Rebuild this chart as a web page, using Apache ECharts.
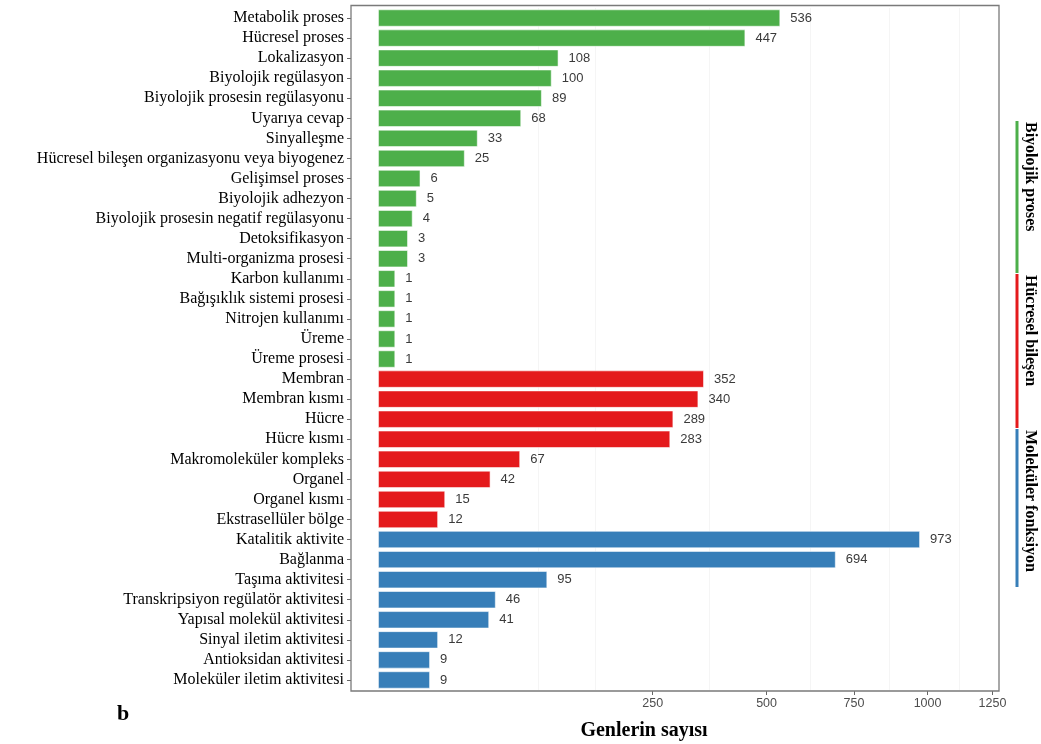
<!DOCTYPE html>
<html>
<head>
<meta charset="utf-8">
<style>
  html, body { margin: 0; padding: 0; background: #fff; }
  #chart { width: 1041px; height: 744px; }
</style>
<script src="https://cdn.jsdelivr.net/npm/echarts@6/dist/echarts.min.js"></script>
</head>
<body>
<div id="chart"></div>
<script>
// GO term counts, grouped by ontology
const bpNames = ['Metabolik proses', 'Hücresel proses', 'Lokalizasyon', 'Biyolojik regülasyon',
  'Biyolojik prosesin regülasyonu', 'Uyarıya cevap', 'Sinyalleşme',
  'Hücresel bileşen organizasyonu veya biyogenez', 'Gelişimsel proses', 'Biyolojik adhezyon',
  'Biyolojik prosesin negatif regülasyonu', 'Detoksifikasyon', 'Multi-organizma prosesi',
  'Karbon kullanımı', 'Bağışıklık sistemi prosesi', 'Nitrojen kullanımı', 'Üreme', 'Üreme prosesi'];
const bpValues = [536, 447, 108, 100, 89, 68, 33, 25, 6, 5, 4, 3, 3, 1, 1, 1, 1, 1];

const ccNames = ['Membran', 'Membran kısmı', 'Hücre', 'Hücre kısmı', 'Makromoleküler kompleks',
  'Organel', 'Organel kısmı', 'Ekstrasellüler bölge'];
const ccValues = [352, 340, 289, 283, 67, 42, 15, 12];

const mfNames = ['Katalitik aktivite', 'Bağlanma', 'Taşıma aktivitesi',
  'Transkripsiyon regülatör aktivitesi', 'Yapısal molekül aktivitesi', 'Sinyal iletim aktivitesi',
  'Antioksidan aktivitesi', 'Moleküler iletim aktivitesi'];
const mfValues = [973, 694, 95, 46, 41, 12, 9, 9];

const groupNames = ['Biyolojik proses', 'Hücresel bileşen', 'Moleküler fonksiyon'];
const groupColors = ['#4daf4a', '#e41a1c', '#377eb8'];

// x axis: square-root scale, ticks in raw counts
const xTicks = [250, 500, 750, 1000, 1250];
const xMinorGrid = [85, 157, 364, 618, 867, 1119];
const xDomainMax = 1281;

const sqrt = Math.sqrt;

const categories = [].concat(bpNames, ccNames, mfNames);
const barData = [];
[bpValues, ccValues, mfValues].forEach((vals, g) => {
  vals.forEach(v => {
    barData.push({ value: sqrt(v), raw: v, itemStyle: { color: groupColors[g] } });
  });
});

const chart = echarts.init(document.getElementById('chart'), null, { renderer: 'canvas' });

const GRID = { left: 351, top: 8, width: 649, height: 682 };

// group strip on the right side
const strips = [
  { y0: 121, y1: 273 },
  { y0: 274, y1: 428 },
  { y0: 429, y1: 587 }
];
const stripGraphics = [];
strips.forEach((s, i) => {
  stripGraphics.push({
    type: 'line', silent: true,
    shape: { x1: 1017, y1: s.y0, x2: 1017, y2: s.y1 },
    style: { stroke: groupColors[i], lineWidth: 3 }
  });
  stripGraphics.push({
    type: 'text', silent: true,
    x: 1038, y: s.y0 + 1, rotation: -Math.PI / 2,
    style: {
      text: groupNames[i], x: 0, y: 0,
      fill: '#000', font: 'bold 16px "Liberation Serif", "Times New Roman", serif',
      textAlign: 'left', textVerticalAlign: 'top'
    }
  });
});

chart.setOption({
  animation: false,
  backgroundColor: '#fff',
  grid: { left: GRID.left, top: GRID.top, width: GRID.width, height: GRID.height, containLabel: false },
  xAxis: {
    type: 'value',
    min: -1.55,
    max: sqrt(xDomainMax),
    offset: 1,
    axisLine: { show: false, onZero: false },
    splitLine: { show: false },
    axisTick: {
      show: true, length: 4, lineStyle: { color: '#666', width: 1 },
      customValues: xTicks.map(sqrt)
    },
    axisLabel: {
      show: true, margin: 6, color: '#4d4d4d',
      fontFamily: '"Liberation Sans", Arial, sans-serif', fontSize: 12.5,
      customValues: xTicks.map(sqrt),
      formatter: v => String(Math.round(v * v))
    }
  },
  yAxis: {
    type: 'category',
    inverse: true,
    data: categories,
    axisLine: { show: false, onZero: false },
    axisTick: { show: true, alignWithLabel: true, length: 4, lineStyle: { color: '#666', width: 1 } },
    axisLabel: {
      margin: 7, color: '#000', interval: 0,
      fontFamily: '"Liberation Serif", "Times New Roman", serif', fontSize: 16
    },
    splitLine: { show: false }
  },
  series: [{
    type: 'bar',
    data: barData,
    barCategoryGap: '13%',
    itemStyle: { borderColor: 'rgba(255,255,255,0.55)', borderWidth: 1 },
    label: {
      show: true, position: 'right', distance: 10,
      color: '#3a3a3a', fontFamily: '"Liberation Sans", Arial, sans-serif', fontSize: 13,
      formatter: p => String(p.data.raw)
    },
    markLine: {
      silent: true, symbol: 'none', label: { show: false },
      lineStyle: { color: '#f5f5f5', width: 1, type: 'solid' },
      data: xMinorGrid.map(v => ({ xAxis: sqrt(v) })),
      z: 0
    },
    z: 2
  }],
  graphic: [
    {
      type: 'rect', silent: true, z: 10,
      shape: { x: 351, y: 5.5, width: 648, height: 685.5 },
      style: { fill: null, stroke: '#7a7a7a', lineWidth: 1.3 }
    },
    {
      type: 'text', silent: true,
      x: 644, y: 731,
      style: {
        text: 'Genlerin sayısı', fill: '#000',
        font: 'bold 20px "Liberation Serif", "Times New Roman", serif',
        textAlign: 'center', textVerticalAlign: 'middle'
      }
    },
    {
      type: 'text', silent: true,
      x: 123, y: 714,
      style: {
        text: 'b', fill: '#000',
        font: 'bold 22px "Liberation Serif", "Times New Roman", serif',
        textAlign: 'center', textVerticalAlign: 'middle'
      }
    }
  ].concat(stripGraphics)
});
</script>
</body>
</html>
